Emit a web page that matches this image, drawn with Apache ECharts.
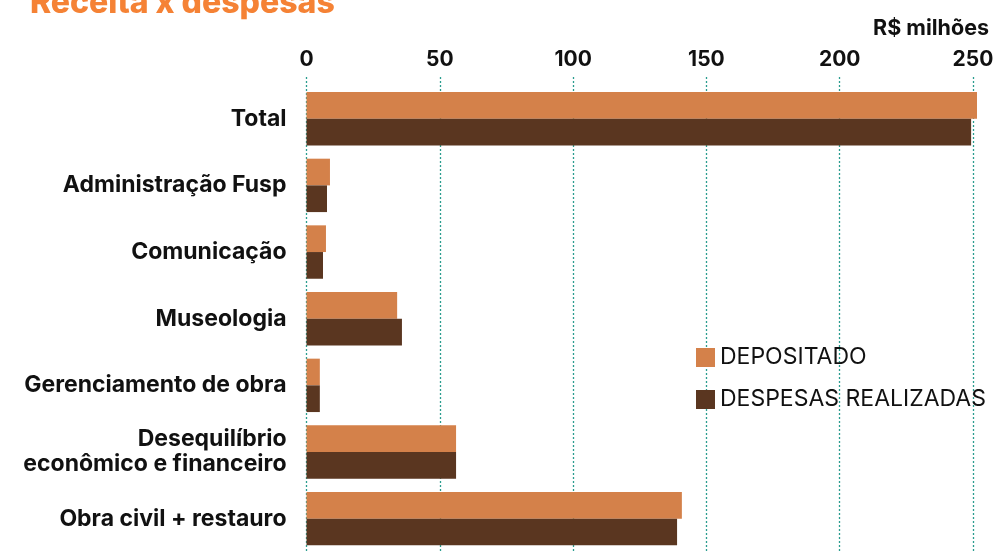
<!DOCTYPE html>
<html><head><meta charset="utf-8">
<script src="https://cdn.jsdelivr.net/npm/echarts@6/dist/echarts.min.js"></script>
<style>html,body{margin:0;padding:0;background:#fff}#c{width:1001px;height:552px}</style>
</head><body><div id="c"></div>
<script>
const categories = ["Total","Administração Fusp","Comunicação","Museologia","Gerenciamento de obra","Desequilíbrio\neconômico e financeiro","Obra civil + restauro"];
const depositado = [251.5, 8.8, 7.3, 34, 5, 56.1, 140.8];
const despesas = [249.3, 7.7, 6.2, 35.8, 5, 56.1, 139];
const ticks = [0, 50, 100, 150, 200, 250];
const FONT = 'Inter';
const chart = echarts.init(document.getElementById('c'), null, {renderer:'canvas'});
chart.setOption({
  animation:false,
  textStyle:{fontFamily:FONT},
  title:[
    {text:'Receita x despesas', left:25, top:-18, textStyle:{fontFamily:FONT, fontSize:32, fontWeight:800, color:'#F58235'}},
    {text:'R$ milhões', right:7, top:13, textStyle:{fontFamily:FONT, fontSize:21.5, fontWeight:700, color:'#111'}}
  ],
  legend:{orient:'vertical', left:696, top:346, padding:0, itemWidth:19, itemHeight:19, itemGap:19, icon:'rect',
    textStyle:{fontFamily:FONT, fontSize:23, color:'#111'}},
  grid:[
    {left:306.5, right:28, top:85.4, height:466.7},
    {left:306.5, right:28, top:77, bottom:0}
  ],
  xAxis:[
    {gridIndex:0, type:'value', position:'top', min:0, max:250, interval:50,
     axisLine:{show:false}, axisTick:{show:false}, splitLine:{show:false},
     axisLabel:{margin:15, fontFamily:FONT, fontSize:21, fontWeight:700, color:'#111',
       customValues:ticks}},
    {gridIndex:1, type:'value', min:0, max:250, interval:50,
     axisLine:{show:false}, axisTick:{show:false}, axisLabel:{show:false},
     splitLine:{show:true, lineStyle:{color:'#2A9D8F', type:[2,2], width:1.3}}}
  ],
  yAxis:[
    {gridIndex:0, type:'category', data:categories, inverse:true,
     axisLine:{show:false}, axisTick:{show:false},
     axisLabel:{margin:20, fontFamily:FONT, fontSize:23, fontWeight:700, color:'#111', lineHeight:25}},
    {gridIndex:1, type:'category', data:[''], show:false}
  ],
  series:[
    {name:'DEPOSITADO', type:'bar', xAxisIndex:0, yAxisIndex:0, data:depositado, barWidth:26.7, barGap:'0%', clip:false,
     itemStyle:{color:'#D4814A'}, z:3},
    {name:'DESPESAS REALIZADAS', type:'bar', xAxisIndex:0, yAxisIndex:0, data:despesas, barWidth:26.7, barGap:'0%', clip:false,
     itemStyle:{color:'#5A3620'}, z:3}
  ]
});
</script></body></html>
